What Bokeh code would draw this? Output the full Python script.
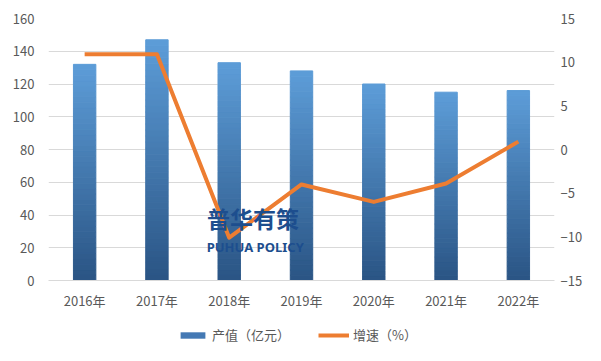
from bokeh.plotting import figure
from bokeh.layouts import column
from bokeh.models import (Range1d, LinearAxis, SingleIntervalTicker, ColumnDataSource,
                          Legend, LegendItem, Label)
from bokeh.embed import file_html
from bokeh.resources import INLINE

years = ["2016年", "2017年", "2018年", "2019年", "2020年", "2021年", "2022年"]
output_value = [132, 147, 133, 128, 120, 115, 116]     # 产值（亿元）
growth_rate = [10.9, 10.9, -10.1, -4.0, -6.0, -3.9, 0.9]  # 增速（%）
legend_labels = ["产值（亿元）", "增速（%）"]

FONT = "Noto Sans CJK SC"
TXT = "#595959"
BAR_MID = "#4479b4"
ORANGE = "#ED7D31"

p = figure(x_range=years, y_range=Range1d(0, 160), width=585, height=312,
           output_backend="svg", toolbar_location=None,
           min_border_left=48, min_border_right=29, min_border_top=18, min_border_bottom=31)
p.outline_line_color = None
p.extra_y_ranges = {"rate": Range1d(-15, 15)}

# gradient bars built from slices of each bar's value
N = 40
top_c = (93, 157, 216)
bot_c = (42, 84, 132)
xs, bottoms, tops, colors = [], [], [], []
for cat, v in zip(years, output_value):
    for k in range(N):
        t = (k + 0.5) / N
        c = tuple(int(round(bot_c[j] + (top_c[j] - bot_c[j]) * t)) for j in range(3))
        xs.append(cat)
        bottoms.append(v * k / N)
        tops.append(v * (k + 1) / N)
        colors.append("#%02x%02x%02x" % c)
src = ColumnDataSource(dict(x=xs, bottom=bottoms, top=tops, color=colors))
p.vbar(x="x", bottom="bottom", top="top", width=0.31, source=src,
       fill_color="color", line_color="color", line_width=1)

p.line(x=years, y=growth_rate, y_range_name="rate", line_color=ORANGE,
       line_width=4, line_join="round")

# axes
p.yaxis.ticker = SingleIntervalTicker(interval=20)
right = LinearAxis(y_range_name="rate", ticker=SingleIntervalTicker(interval=5))
p.add_layout(right, "right")
for ax in [p.yaxis[0], right, p.xaxis[0]]:
    ax.major_tick_line_color = None
    ax.minor_tick_line_color = None
    ax.major_tick_out = 0
    ax.major_tick_in = 0
    ax.minor_tick_out = 0
    ax.major_label_text_font = FONT
    ax.major_label_text_font_size = "13px"
    ax.major_label_text_color = TXT
p.yaxis[0].axis_line_color = None
right.axis_line_color = None
p.yaxis[0].major_label_standoff = 14
right.major_label_standoff = 6
p.xaxis[0].axis_line_color = "#d9d9d9"
p.xaxis[0].major_label_standoff = 10

p.ygrid.ticker = SingleIntervalTicker(interval=20)
p.ygrid.grid_line_color = "#d9d9d9"
p.xgrid.grid_line_color = None

# watermark
p.add_layout(Label(x=2.83, y=38, text="普华有策", text_font=FONT, text_font_size="23px",
                   text_font_style="bold", text_color="#1d4e8e", text_align="center",
                   text_baseline="middle"))
p.add_layout(Label(x=2.86, y=20.5, text="PUHUA POLICY", text_font="Noto Sans",
                   text_font_size="13px", text_font_style="bold", text_color="#1d4e8e",
                   text_align="center", text_baseline="middle"))

# legend strip below the chart
q = figure(width=585, height=33, x_range=Range1d(0, 585), y_range=Range1d(0, 33),
           output_backend="svg", toolbar_location=None, x_axis_type=None, y_axis_type=None,
           min_border=0)
q.outline_line_color = None
q.grid.visible = False
rb = q.vbar(x=[-1000], top=[-1000], width=1, fill_color=BAR_MID, line_color=None)
rl = q.line(x=[-1000, -999], y=[-1000, -1000], line_color=ORANGE, line_width=4)
legend = Legend(items=[LegendItem(label=legend_labels[0], renderers=[rb]),
                       LegendItem(label=legend_labels[1], renderers=[rl])],
                orientation="horizontal", location=(129, 1))
legend.label_text_font = FONT
legend.label_text_font_size = "13px"
legend.label_text_color = TXT
legend.glyph_width = 31
legend.glyph_height = 8
legend.label_standoff = 4
legend.spacing = 28
legend.padding = 0
legend.margin = 0
legend.background_fill_alpha = 0
legend.border_line_alpha = 0
q.add_layout(legend, "center")

layout = column(p, q, spacing=0)
open("out.html", "w").write(file_html(layout, INLINE))
